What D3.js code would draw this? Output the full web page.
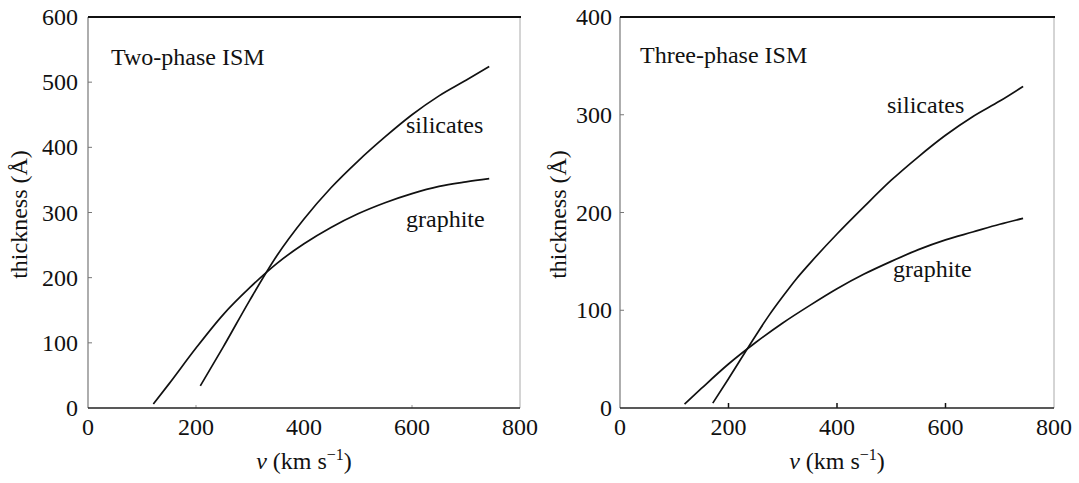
<!DOCTYPE html>
<html><head><meta charset="utf-8">
<script src="https://cdn.jsdelivr.net/npm/d3@7"></script>
</head>
<body style="margin:0"><svg id="c" width="1079" height="483" style="font-family:'Liberation Serif';background:#fff"></svg>
<script>
// ---- data ----
const xTicks = [0, 200, 400, 600, 800];
const twoPhaseYTicks = [0, 100, 200, 300, 400, 500, 600];
const threePhaseYTicks = [0, 100, 200, 300, 400];

const twoSilV = [208, 250, 300, 350, 400, 450, 500, 550, 600, 650, 700, 743];
const twoSilT = [34, 93, 166, 234, 290, 338, 379, 416, 450, 479, 503, 524];
const twoGraV = [121, 150, 200, 250, 300, 350, 400, 450, 500, 550, 600, 650, 700, 743];
const twoGraT = [6, 37, 92, 143, 185, 222, 252, 277, 298, 315, 329, 340, 347, 352];

const threeSilV = [171, 200, 250, 275, 300, 325, 350, 400, 450, 500, 550, 600, 650, 700, 743];
const threeSilT = [5, 30, 74, 95, 114, 132, 148, 178, 206, 233, 257, 279, 298, 314, 329];
const threeGraV = [119, 150, 200, 250, 300, 350, 400, 450, 500, 550, 600, 650, 700, 743];
const threeGraT = [4, 20, 45, 67, 87, 105, 122, 137, 150, 162, 172, 180, 188, 194];

const panels = [
  {title: "Two-phase ISM", yMax: 600, yTicks: twoPhaseYTicks,
   x0: 88, x1: 520, top: 17, bottom: 408,
   series: [[twoSilV, twoSilT], [twoGraV, twoGraT]],
   labels: [["silicates", 406, 133], ["graphite", 406, 227]],
   titlePos: [111, 65], xTickShow: [200, 600], xTickColor: "#bbb", xTickLen: 3,
   yLabelGap: 10, yTitleX: 27},
  {title: "Three-phase ISM", yMax: 400, yTicks: threePhaseYTicks,
   x0: 620, x1: 1054, top: 17, bottom: 408,
   series: [[threeSilV, threeSilT], [threeGraV, threeGraT]],
   labels: [["silicates", 887, 113], ["graphite", 893, 277]],
   titlePos: [640, 63], xTickShow: [200, 400, 600], xTickColor: "#111", xTickLen: 5,
   yLabelGap: 8, yTitleX: 566}
];

const svg = d3.select("#c");

function txt(sel) {
  return sel.style("font-family", "'Liberation Serif'").style("font-size", "24px").style("fill", "#111");
}

panels.forEach(p => {
  const x = d3.scaleLinear().domain([0, 800]).range([p.x0, p.x1]);
  const y = d3.scaleLinear().domain([0, p.yMax]).range([p.bottom, p.top]);

  svg.append("line").attr("x1", p.x1).attr("x2", p.x1).attr("y1", p.top).attr("y2", p.bottom)
    .attr("stroke", "#aaa").attr("stroke-width", 1);
  svg.append("line").attr("x1", p.x0).attr("x2", p.x0).attr("y1", p.top).attr("y2", p.bottom)
    .attr("stroke", "#777").attr("stroke-width", 1.2);

  p.yTicks.filter(t => t > 0 && t < p.yMax).forEach(d => {
    svg.append("line").attr("x1", p.x0).attr("x2", p.x0 + 4)
      .attr("y1", y(d)).attr("y2", y(d))
      .attr("stroke", "#777").attr("stroke-width", 1);
  });
  p.xTickShow.forEach(d => {
    svg.append("line").attr("x1", x(d)).attr("x2", x(d))
      .attr("y1", p.bottom).attr("y2", p.bottom - p.xTickLen)
      .attr("stroke", p.xTickColor).attr("stroke-width", 1.5);
  });

  svg.append("line").attr("x1", p.x0).attr("x2", p.x1).attr("y1", p.bottom).attr("y2", p.bottom)
    .attr("stroke", "#222").attr("stroke-width", 1.6);
  svg.append("line").attr("x1", p.x0).attr("x2", p.x1 + 1).attr("y1", p.top).attr("y2", p.top)
    .attr("stroke", "#111").attr("stroke-width", 2.2);

  p.yTicks.forEach(d => {
    txt(svg.append("text")).attr("x", p.x0 - p.yLabelGap).attr("y", y(d) + 8)
      .attr("text-anchor", "end").text(d);
  });
  xTicks.forEach(d => {
    txt(svg.append("text")).attr("x", x(d)).attr("y", 435)
      .attr("text-anchor", "middle").text(d);
  });

  const xt = txt(svg.append("text")).attr("x", (p.x0 + p.x1) / 2).attr("y", 469)
    .attr("text-anchor", "middle");
  xt.append("tspan").style("font-style", "italic").text("v");
  xt.append("tspan").text(" (km s");
  xt.append("tspan").attr("dy", -9).style("font-size", "16px").text("−1");
  xt.append("tspan").attr("dy", 9).text(")");

  txt(svg.append("text")).attr("transform", `translate(${p.yTitleX},${(p.top + p.bottom) / 2 + 2}) rotate(-90)`)
    .attr("text-anchor", "middle").text("thickness (Å)");

  txt(svg.append("text")).attr("x", p.titlePos[0]).attr("y", p.titlePos[1]).text(p.title);

  const line = d3.line().x(d => x(d[0])).y(d => y(d[1])).curve(d3.curveMonotoneX);
  p.series.forEach(([vs, ts]) => {
    const pts = vs.map((v, i) => [v, ts[i]]);
    svg.append("path").attr("d", line(pts)).style("fill", "none")
      .attr("stroke", "#111").attr("stroke-width", 1.7);
  });

  p.labels.forEach(([t, lx, ly]) => {
    txt(svg.append("text")).attr("x", lx).attr("y", ly).text(t);
  });
});
</script></body></html>
